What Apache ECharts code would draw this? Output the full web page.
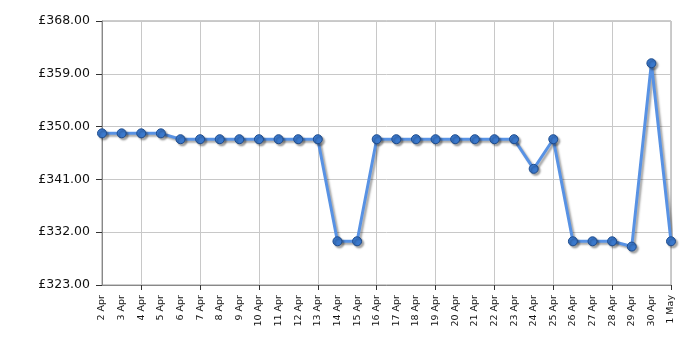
<!DOCTYPE html>
<html>
<head>
<meta charset="utf-8">
<script src="https://cdn.jsdelivr.net/npm/echarts@6/dist/echarts.min.js"></script>
<style>html,body{margin:0;padding:0;background:#fff}#c{width:700px;height:350px}</style>
</head>
<body>
<div id="c"></div>
<script>
const categories = ['2 Apr','3 Apr','4 Apr','5 Apr','6 Apr','7 Apr','8 Apr','9 Apr','10 Apr','11 Apr','12 Apr','13 Apr','14 Apr','15 Apr','16 Apr','17 Apr','18 Apr','19 Apr','20 Apr','21 Apr','22 Apr','23 Apr','24 Apr','25 Apr','26 Apr','27 Apr','28 Apr','29 Apr','30 Apr','1 May'];
const prices = [348.85,348.85,348.85,348.85,347.85,347.85,347.85,347.85,347.85,347.85,347.85,347.85,330.45,330.45,347.85,347.85,347.85,347.85,347.85,347.85,347.85,347.85,342.8,347.85,330.45,330.45,330.45,329.55,360.8,330.45];
const yMin = 323, yMax = 368, yStep = 9;

const chart = echarts.init(document.getElementById('c'), null, {renderer:'canvas'});
const gridIdx = i => (i - 2) % 3 === 0 && i >= 2;
chart.setOption({
  animation: false,
  grid: {left: 102, right: 29, top: 21, bottom: 65, containLabel: false, show: true, borderColor: '#999', borderWidth: 1},
  xAxis: {
    type: 'category', data: categories, boundaryGap: false,
    axisLine: {lineStyle: {color: '#888', width: 1}},
    axisTick: {show: true, interval: gridIdx, length: 5, lineStyle: {color: '#333'}},
    splitLine: {show: true, interval: gridIdx, lineStyle: {color: '#c8c8c8', width: 1}},
    axisLabel: {interval: 0, rotate: 90, fontSize: 9.5, fontFamily: 'DejaVu Sans', color: '#111', margin: 10}
  },
  yAxis: {
    type: 'value', min: yMin, max: yMax, interval: yStep,
    axisLine: {show: true, lineStyle: {color: '#888'}},
    axisTick: {show: true, length: 6, lineStyle: {color: '#333'}},
    splitLine: {show: true, lineStyle: {color: '#c8c8c8'}},
    axisLabel: {fontSize: 12.5, fontFamily: 'DejaVu Sans', color: '#111', margin: 12,
      formatter: v => '£' + v.toFixed(2)}
  },
  series: [{
    type: 'line', data: prices, symbol: 'circle', symbolSize: 9,
    lineStyle: {color: '#5892e4', width: 3, shadowColor: 'rgba(0,0,0,0.35)', shadowBlur: 2, shadowOffsetX: 2, shadowOffsetY: 2},
    itemStyle: {color: '#3a78cc', borderColor: '#1f4c8c', borderWidth: 1, shadowColor: 'rgba(0,0,0,0.35)', shadowBlur: 2, shadowOffsetX: 2, shadowOffsetY: 2}
  }]
});
</script>
</body>
</html>
